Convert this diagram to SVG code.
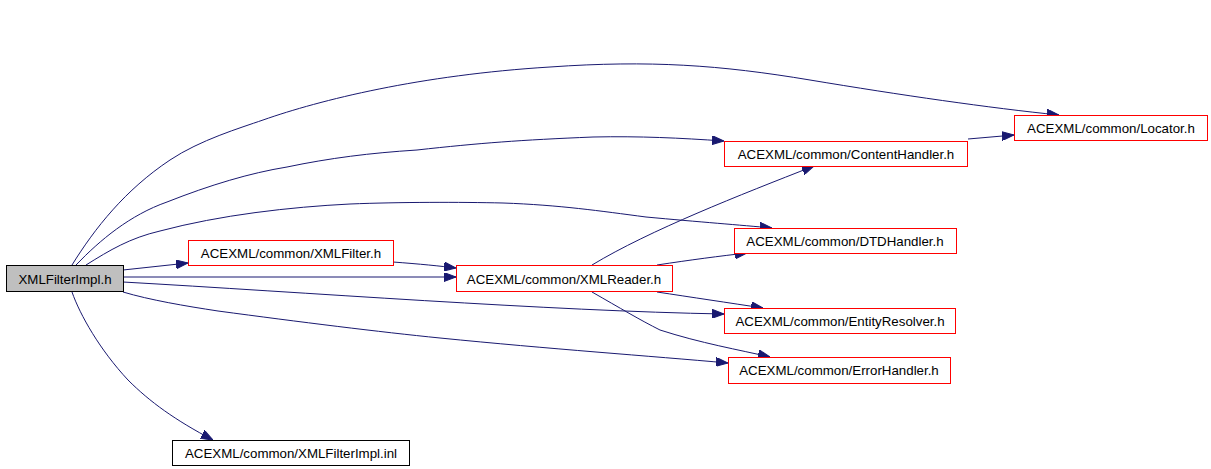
<svg xmlns="http://www.w3.org/2000/svg" width="1211" height="469" viewBox="0 0 1211 469">
<style>
.n rect{fill:#ffffff;stroke:#ff0000;stroke-width:1}
.n text{font-family:"Liberation Sans",Arial,sans-serif;font-size:13.3px;text-anchor:middle;fill:#000}
#node0 rect{fill:#bfbfbf;stroke:#000}
#node9 rect{stroke:#000}
.e path{fill:none;stroke:#191970;stroke-width:1;marker-end:url(#arr)}
</style>
<defs>
<marker id="arr" markerUnits="userSpaceOnUse" markerWidth="12" markerHeight="9" refX="12" refY="4.5" orient="auto" viewBox="0 0 12 9">
<path d="M0,0 L12,4.5 L0,9 z" fill="#191970" stroke="#191970"/>
</marker>
</defs>
<rect width="1211" height="469" fill="#fff"/>
<g id="edges" class="e">
<path d="M72,265 C95,228 125,190 170,160 C200,140 240,128 263,120 C320,100 420,75 550,67 C650,60 720,65 810,80 C900,95 990,108 1059,115"/>
<path d="M76,265 C100,240 130,215 167,202 C210,185 250,173 287,167 C330,158 370,153 417,150 C480,143 520,140 593,137 C640,136 680,138 724,141"/>
<path d="M86,265 C110,250 130,238 160,231 C220,215 290,207 350,204 C400,202 460,202 503,203 C560,205 600,211 646,217 C700,222 740,225 772,228"/>
<path d="M123,270 L188,263"/>
<path d="M123,277 L456,277"/>
<path d="M123,282 C300,292 550,311 724,314"/>
<path d="M123,292 C150,300 185,306 218,311 C300,322 380,332 440,338 C550,349 650,356 728,363"/>
<path d="M72,292 C80,315 100,350 128,380 C150,402 175,420 213,440"/>
<path d="M393,262 C420,264 440,266 456,268"/>
<path d="M592,265 C650,230 740,195 814,166"/>
<path d="M657,265 C690,260 720,256 747,253"/>
<path d="M657,292 C690,297 730,303 763,308"/>
<path d="M592,292 C620,308 640,320 660,330 C700,343 740,350 770,357"/>
<path d="M968,139 L1014,135"/>
</g>
<g id="node0" class="n"><rect x="6.5" y="265.5" width="117" height="26"/><text x="65" y="283.5">XMLFilterImpl.h</text></g>
<g id="node1" class="n"><rect x="188.5" y="240.5" width="205" height="25"/><text x="291" y="257.5">ACEXML/common/XMLFilter.h</text></g>
<g id="node2" class="n"><rect x="456.5" y="265.5" width="216" height="26"/><text x="564" y="283.5">ACEXML/common/XMLReader.h</text></g>
<g id="node3" class="n"><rect x="1014.5" y="115.5" width="193" height="25"/><text x="1111" y="132.5">ACEXML/common/Locator.h</text></g>
<g id="node4" class="n"><rect x="724.5" y="141.5" width="243" height="25"/><text x="846" y="158.5">ACEXML/common/ContentHandler.h</text></g>
<g id="node5" class="n"><rect x="734.5" y="228.5" width="222" height="25"/><text x="845" y="245.5">ACEXML/common/DTDHandler.h</text></g>
<g id="node6" class="n"><rect x="724.5" y="308.5" width="231" height="25"/><text x="840" y="325.5">ACEXML/common/EntityResolver.h</text></g>
<g id="node7" class="n"><rect x="728.5" y="357.5" width="222" height="26"/><text x="839" y="375">ACEXML/common/ErrorHandler.h</text></g>
<g id="node9" class="n"><rect x="172.5" y="440.5" width="237" height="25"/><text x="291" y="457.5">ACEXML/common/XMLFilterImpl.inl</text></g>
</svg>
